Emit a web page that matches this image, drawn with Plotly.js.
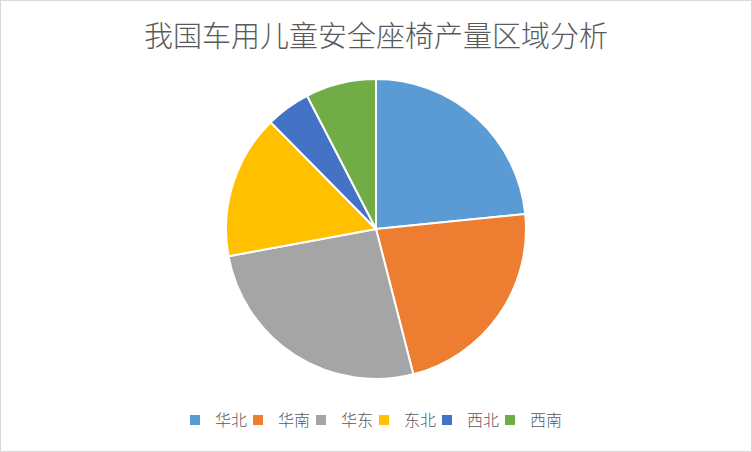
<!DOCTYPE html>
<html>
<head>
<meta charset="utf-8">
<script src="https://cdn.plot.ly/plotly-3.0.1.min.js"></script>
<style>
  body { margin: 0; background: #fff; }
  #myDiv { width: 750px; height: 450px; border: 1px solid #d9d9d9; }
  /* entries are packed tighter than their labels, so let the last label show */
  #myDiv .legend .scrollbox { clip-path: none !important; }
</style>
</head>
<body>
<div id="myDiv"></div>
<script>
// regions and their share of output (%)
var regions = ['华北', '华南', '华东', '东北', '西北', '西南'];
var shares = [23.4, 22.6, 26.1, 15.5, 4.8, 7.6];
var colors = ['#5b9bd5', '#ed7d31', '#a5a5a5', '#ffc000', '#4472c4', '#70ad47'];

var trace = {
  type: 'pie',
  labels: regions,
  values: shares,
  sort: false,
  direction: 'clockwise',
  rotation: 0,
  textinfo: 'none',
  hoverinfo: 'label+percent',
  marker: { colors: colors, line: { color: '#ffffff', width: 2 } }
};

var layout = {
  width: 750,
  height: 450,
  paper_bgcolor: '#ffffff',
  font: { family: '"Noto Sans CJK SC", sans-serif', color: '#595959' },
  title: {
    text: '我国车用儿童安全座椅产量区域分析',
    font: { size: 29, color: '#595959', weight: 300 },
    x: 0.5, xanchor: 'center',
    yref: 'container', y: 1 - 36 / 450, yanchor: 'middle'
  },
  margin: { l: 0, r: 0, t: 78, b: 72 },
  showlegend: true,
  legend: {
    orientation: 'h',
    xref: 'container', x: 0.484, xanchor: 'center',
    yref: 'container', y: 1 - 419 / 450, yanchor: 'middle',
    font: { size: 16, color: '#595959', weight: 300 },
    itemwidth: 30,
    entrywidth: 18,
    entrywidthmode: 'pixels'
  }
};

Plotly.newPlot('myDiv', [trace], layout, { displayModeBar: false });
</script>
</body>
</html>
